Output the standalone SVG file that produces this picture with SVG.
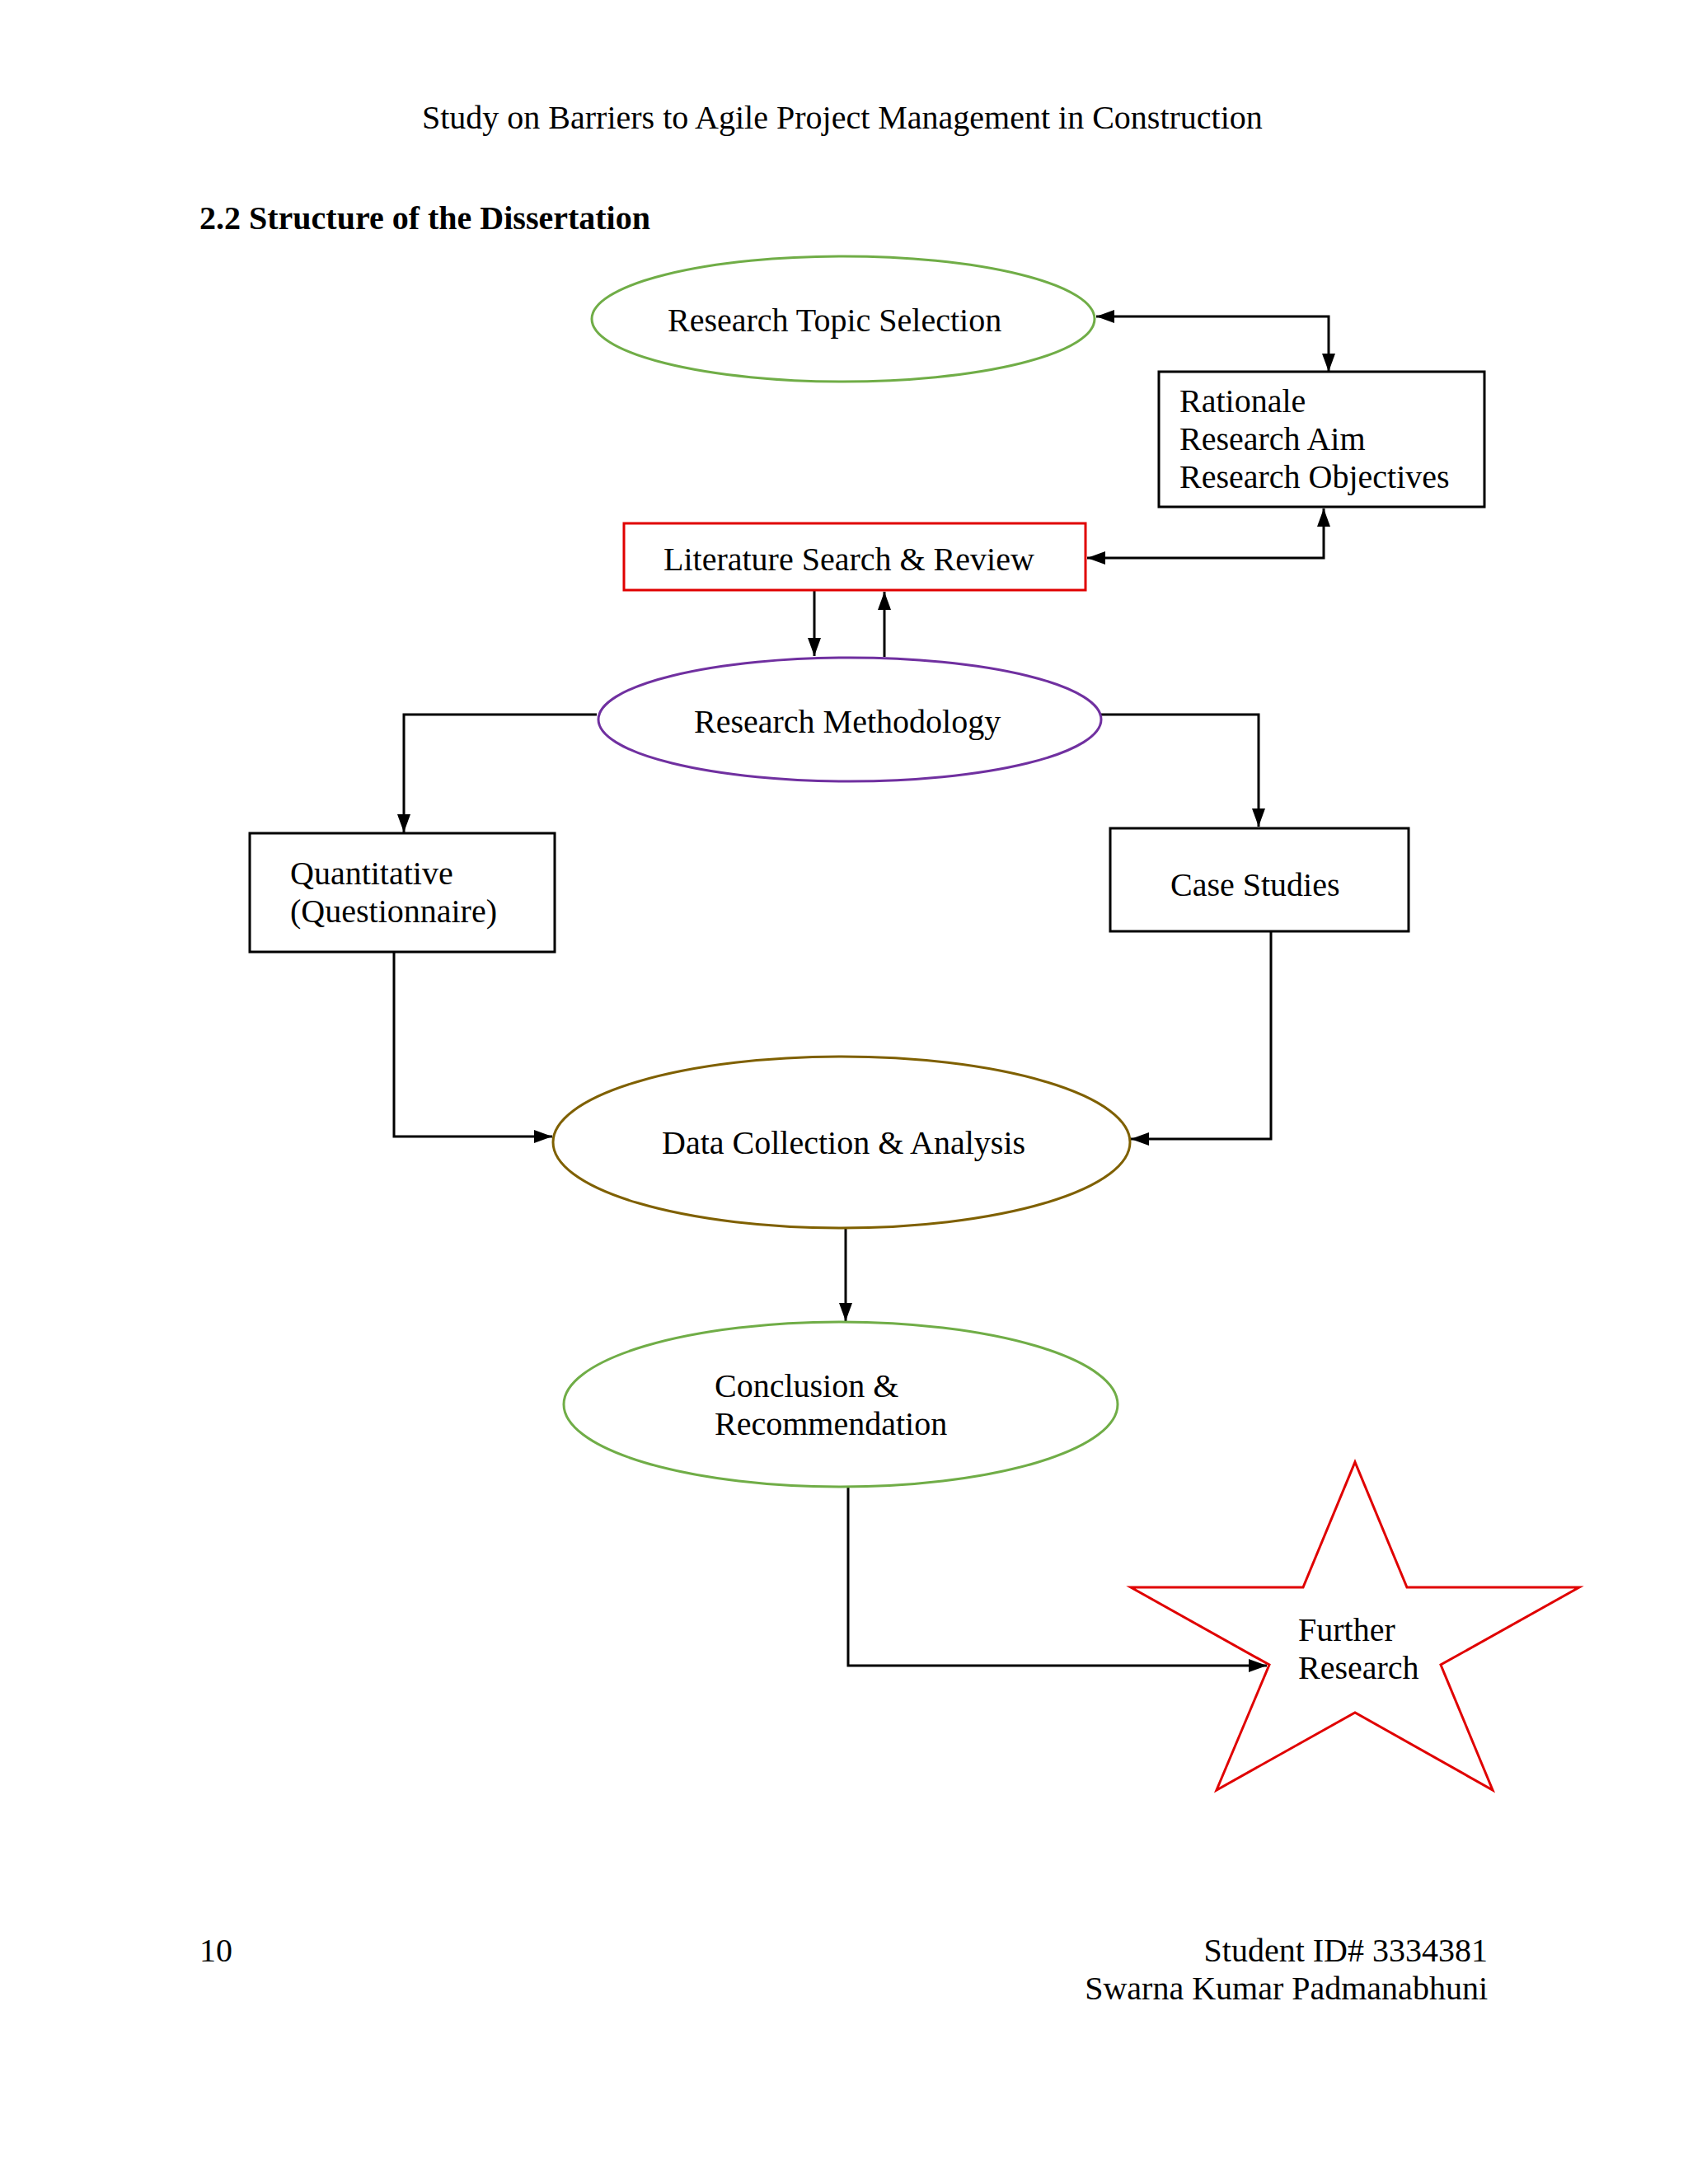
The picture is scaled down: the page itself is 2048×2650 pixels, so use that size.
<svg xmlns="http://www.w3.org/2000/svg" width="2048" height="2650" viewBox="0 0 2048 2650">
<style>
text{font-family:"Liberation Serif","Times New Roman",serif;font-size:40px;fill:#000}
.hd{font-weight:bold}
.conn{fill:none;stroke:#000;stroke-width:3}
.box{fill:#fff;stroke:#000;stroke-width:3}
</style>
<defs>
<marker id="ah" markerUnits="userSpaceOnUse" markerWidth="24" markerHeight="20" refX="22" refY="8" orient="auto-start-reverse">
<path d="M0,0 L22,8 L0,16 z" fill="#000"/>
</marker>
</defs>
<rect width="2048" height="2650" fill="#fff"/>
<g id="header">
<text x="512" y="156">Study on Barriers to Agile Project Management in Construction</text>
<text class="hd" x="242" y="278">2.2 Structure of the Dissertation</text>
</g>
<g id="connectors">
<path class="conn" d="M1330,384 H1612 V451" marker-start="url(#ah)" marker-end="url(#ah)"/>
<path class="conn" d="M1606,617 V677 H1319" marker-start="url(#ah)" marker-end="url(#ah)"/>
<path class="conn" d="M988,717 V796" marker-end="url(#ah)"/>
<path class="conn" d="M1073,797 V718" marker-end="url(#ah)"/>
<path class="conn" d="M724,867 H490 V1010" marker-end="url(#ah)"/>
<path class="conn" d="M1336,867 H1527 V1003" marker-end="url(#ah)"/>
<path class="conn" d="M478,1155 V1379 H670" marker-end="url(#ah)"/>
<path class="conn" d="M1542,1130 V1382 H1372" marker-end="url(#ah)"/>
<path class="conn" d="M1026,1490 V1603" marker-end="url(#ah)"/>
<path class="conn" d="M1029,1804 V2021 H1537" marker-end="url(#ah)"/>
</g>
<g id="topic">
<ellipse cx="1023" cy="387" rx="305" ry="76" fill="none" stroke="#70AD47" stroke-width="3"/>
<text x="810" y="402">Research Topic Selection</text>
</g>
<g id="rationale">
<rect class="box" x="1406" y="451" width="395" height="164"/>
<text x="1431" y="500">Rationale</text>
<text x="1431" y="546">Research Aim</text>
<text x="1431" y="592">Research Objectives</text>
</g>
<g id="literature">
<rect x="757" y="635" width="560" height="81" fill="#fff" stroke="#E00000" stroke-width="3"/>
<text x="805" y="692">Literature Search &amp; Review</text>
</g>
<g id="methodology">
<ellipse cx="1031" cy="873" rx="305" ry="75" fill="none" stroke="#7030A0" stroke-width="3"/>
<text x="842" y="889">Research Methodology</text>
</g>
<g id="quantitative">
<rect class="box" x="303" y="1011" width="370" height="144"/>
<text x="352" y="1073">Quantitative</text>
<text x="352" y="1119">(Questionnaire)</text>
</g>
<g id="casestudies">
<rect class="box" x="1347" y="1005" width="362" height="125"/>
<text x="1420" y="1087">Case Studies</text>
</g>
<g id="datacollection">
<ellipse cx="1021" cy="1386" rx="350" ry="104" fill="none" stroke="#7F6000" stroke-width="3"/>
<text x="803" y="1400">Data Collection &amp; Analysis</text>
</g>
<g id="conclusion">
<ellipse cx="1020" cy="1704" rx="336" ry="100" fill="none" stroke="#70AD47" stroke-width="3"/>
<text x="867" y="1695">Conclusion &amp;</text>
<text x="867" y="1741">Recommendation</text>
</g>
<g id="further">
<polygon points="1644,1774 1707,1926 1916,1926 1748,2020 1811,2172 1644,2078 1476,2172 1540,2020 1372,1926 1581,1926" fill="none" stroke="#E00000" stroke-width="3"/>
<text x="1575" y="1991">Further</text>
<text x="1575" y="2037">Research</text>
</g>
<g id="footer">
<text x="242" y="2380">10</text>
<text x="1805" y="2380" text-anchor="end">Student ID# 3334381</text>
<text x="1805" y="2426" text-anchor="end">Swarna Kumar Padmanabhuni</text>
</g>
</svg>
